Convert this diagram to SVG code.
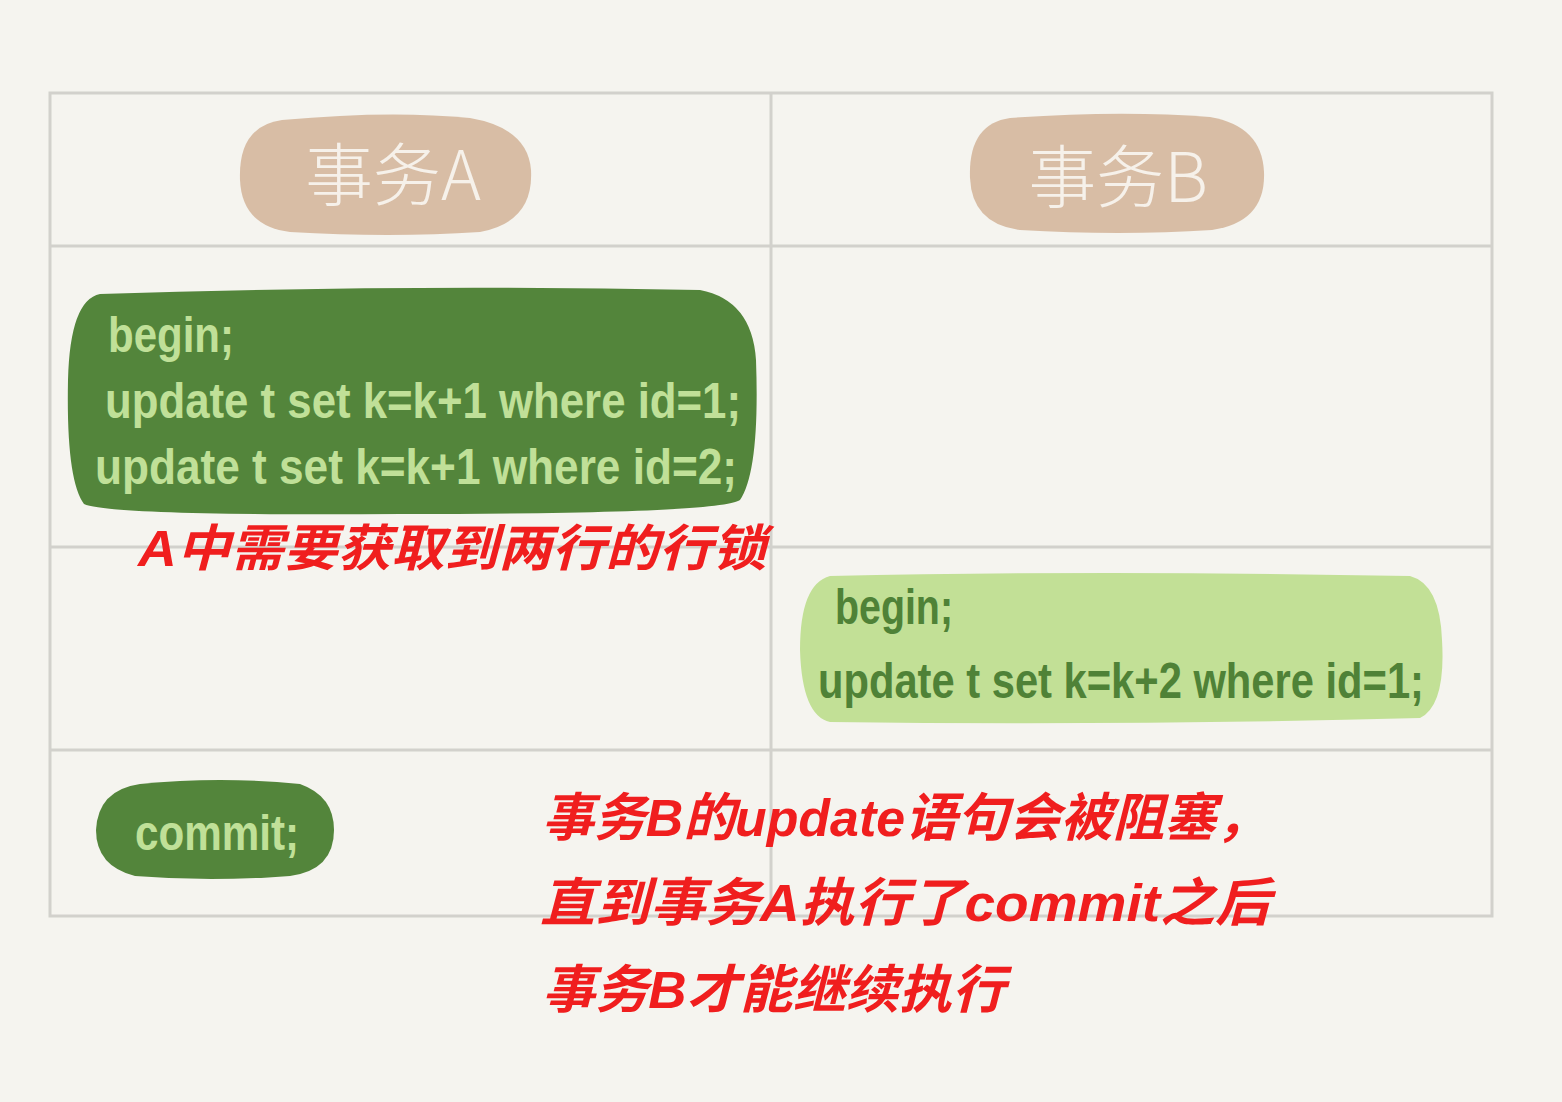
<svg xmlns="http://www.w3.org/2000/svg" width="1562" height="1102" viewBox="0 0 1562 1102">
<style>
.grid{stroke:#d2d1cc;stroke-width:3;fill:none}
.hand{font-family:"Liberation Sans","DejaVu Sans",sans-serif;font-weight:bold}
.hdr{font-family:"Noto Sans CJK SC","Liberation Sans",sans-serif;font-size:68px;fill:#f6f1ea;font-weight:300}
.codeA{fill:#c0e098;font-size:50px}
.codeB{fill:#4f8237;font-size:50px}
.red{font-family:"Liberation Sans","Noto Sans CJK SC",sans-serif;font-weight:bold;font-style:italic;fill:#f01e1e}
</style>
<rect width="1562" height="1102" fill="#f5f4ef"/>
<g id="grid" class="grid">
<rect x="50" y="93" width="1442" height="823"/>
<line x1="771" y1="93" x2="771" y2="916"/>
<line x1="50" y1="246" x2="1492" y2="246"/>
<line x1="50" y1="547" x2="1492" y2="547"/>
<line x1="50" y1="750" x2="1492" y2="750"/>
</g>
<g id="headerA">
<path d="M282 120 Q390 110 470 118 Q528 128 531 170 Q534 222 480 232 Q390 238 290 232 Q242 226 240 180 Q238 126 282 120 Z" fill="#d8bda5"/>
<text class="hdr" x="393" y="200" text-anchor="middle">事务A</text>
</g>
<g id="headerB">
<path d="M1010 118 Q1120 110 1210 117 Q1262 126 1264 172 Q1266 222 1212 230 Q1120 236 1020 230 Q972 224 970 178 Q968 124 1010 118 Z" fill="#d8bda5"/>
<text class="hdr" x="1118" y="202" text-anchor="middle">事务B</text>
</g>
<g id="txA">
<path d="M100 294 Q400 284 700 290 Q752 300 756 360 Q760 470 740 500 Q720 514 400 514 Q110 516 84 504 Q66 480 68 380 Q70 300 100 294 Z" fill="#53853b"/>
<text class="hand codeA" x="108" y="352" textLength="126" lengthAdjust="spacingAndGlyphs">begin;</text>
<text class="hand codeA" x="105" y="418" textLength="636" lengthAdjust="spacingAndGlyphs">update t set k=k+1 where id=1;</text>
<text class="hand codeA" x="95" y="484" textLength="642" lengthAdjust="spacingAndGlyphs">update t set k=k+1 where id=2;</text>
</g>
<g id="noteA">
<text class="red" x="138" y="566" font-size="50" textLength="628" lengthAdjust="spacingAndGlyphs">A中需要获取到两行的行锁</text>
</g>
<g id="txB">
<path d="M830 576 Q1100 570 1410 576 Q1440 584 1442 640 Q1446 705 1420 718 Q1120 726 830 722 Q802 716 800 650 Q800 584 830 576 Z" fill="#c2e096"/>
<text class="hand codeB" x="835" y="624" textLength="118" lengthAdjust="spacingAndGlyphs">begin;</text>
<text class="hand codeB" x="818" y="698" textLength="606" lengthAdjust="spacingAndGlyphs">update t set k=k+2 where id=1;</text>
</g>
<g id="commitA">
<path d="M140 784 Q220 776 300 784 Q334 796 334 830 Q334 870 290 876 Q210 882 135 876 Q96 866 96 830 Q98 790 140 784 Z" fill="#53853b"/>
<text class="hand codeA" x="135" y="850" textLength="164" lengthAdjust="spacingAndGlyphs">commit;</text>
</g>
<g id="noteB">
<text class="red" x="542" y="836" font-size="52" textLength="726" lengthAdjust="spacingAndGlyphs">事务B的update语句会被阻塞，</text>
<text class="red" x="540" y="921" font-size="52" textLength="730" lengthAdjust="spacingAndGlyphs">直到事务A执行了commit之后</text>
<text class="red" x="542" y="1008" font-size="52" textLength="463" lengthAdjust="spacingAndGlyphs">事务B才能继续执行</text>
</g>
</svg>
